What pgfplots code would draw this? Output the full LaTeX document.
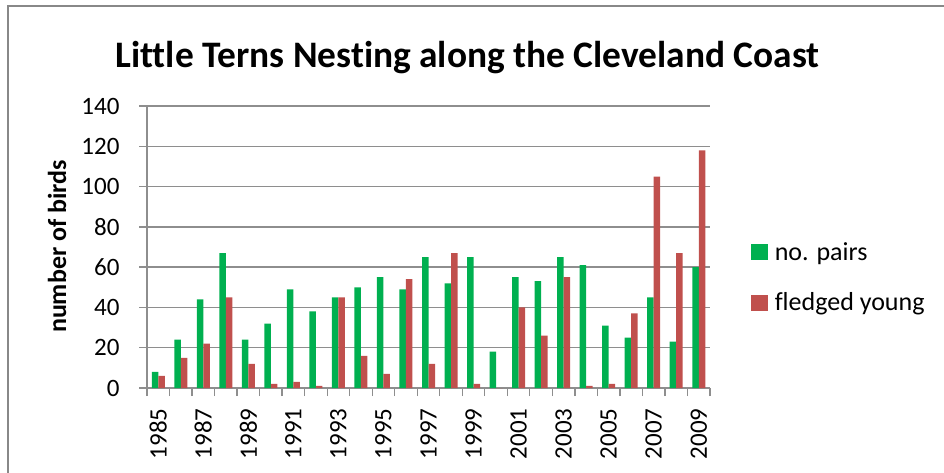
\documentclass[border=0pt]{standalone}
\usepackage{fontspec}
\setmainfont{Carlito}[Ligatures=NoCommon]
\usepackage{pgfplots}
\usepackage{pgfplotstable}
\pgfplotsset{compat=1.18}

\definecolor{pairsgreen}{HTML}{00B050}
\definecolor{youngred}{HTML}{C0504D}
\definecolor{framegray}{HTML}{888888}
\definecolor{gridgray}{HTML}{8E8E8E}

% Little tern counts on the Cleveland coast
\pgfplotstableread{
year pairs young
1985 8 6
1986 24 15
1987 44 22
1988 67 45
1989 24 12
1990 32 2
1991 49 3
1992 38 1
1993 45 45
1994 50 16
1995 55 7
1996 49 54
1997 65 12
1998 52 67
1999 65 2
2000 18 0
2001 55 40
2002 53 26
2003 65 55
2004 61 1
2005 31 2
2006 25 37
2007 45 105
2008 23 67
2009 60 118
}\terns

\begin{document}
\begin{tikzpicture}[x=1pt,y=1pt]
\useasboundingbox (0,0) rectangle (944,472);
% chart frame (only top and left edges fall inside the page)
\draw[framegray, line width=2pt] (8,-20) -- (8,466) -- (980,466);

\begin{axis}[
  at={(147pt,84pt)}, anchor=south west,
  scale only axis, width=563pt, height=282pt,
  xmin=1984.5, xmax=2009.5, ymin=0, ymax=140,
  ybar=0pt, bar width=6.5pt,
  axis x line*=bottom, axis y line*=left,
  axis line style={gridgray, line width=1.3pt},
  ymajorgrids, grid style={gridgray, line width=1.3pt},
  ytick={0,20,...,140},
  xtick={1985,1987,...,2009},
  minor xtick={1984.5,1985.5,...,2009.5},
  tick align=outside,
  major tick length=8pt, minor tick length=8pt,
  tick style={gridgray, line width=1.3pt},
  major x tick style={draw=none},
  /pgf/number format/assume math mode=true,
  /pgf/number format/1000 sep={},
  ticklabel style={font=\fontsize{25}{30}\selectfont},
  xticklabel style={rotate=90, anchor=east},
  xticklabel shift=9pt,
  yticklabel shift=16pt,
  legend style={at={(1.073,0.392)}, anchor=west, draw=none, fill=none,
    inner sep=0pt, row sep=31pt,
    font=\fontsize{26}{30}\selectfont,
    nodes={inner sep=0pt, outer sep=0pt},
    /tikz/every odd column/.append style={column sep=7pt}},
  legend cell align=left,
  legend image code/.code={\fill[#1] (0pt,-8pt) rectangle (16.5pt,8pt);},
]
\addplot[fill=pairsgreen, draw=none] table[x=year, y=pairs] {\terns};
\addplot[fill=youngred, draw=none] table[x=year, y=young] {\terns};
\legend{no. pairs, fledged young}
\end{axis}

\node[font=\bfseries\fontsize{37.4}{42}\selectfont, anchor=base] at (467.5,404.5)
  {Little Terns Nesting along the Cleveland Coast};
\node[font=\bfseries\fontsize{26}{30}\selectfont, rotate=90, anchor=base] at (66,225.5)
  {number of birds};
\end{tikzpicture}
\end{document}
